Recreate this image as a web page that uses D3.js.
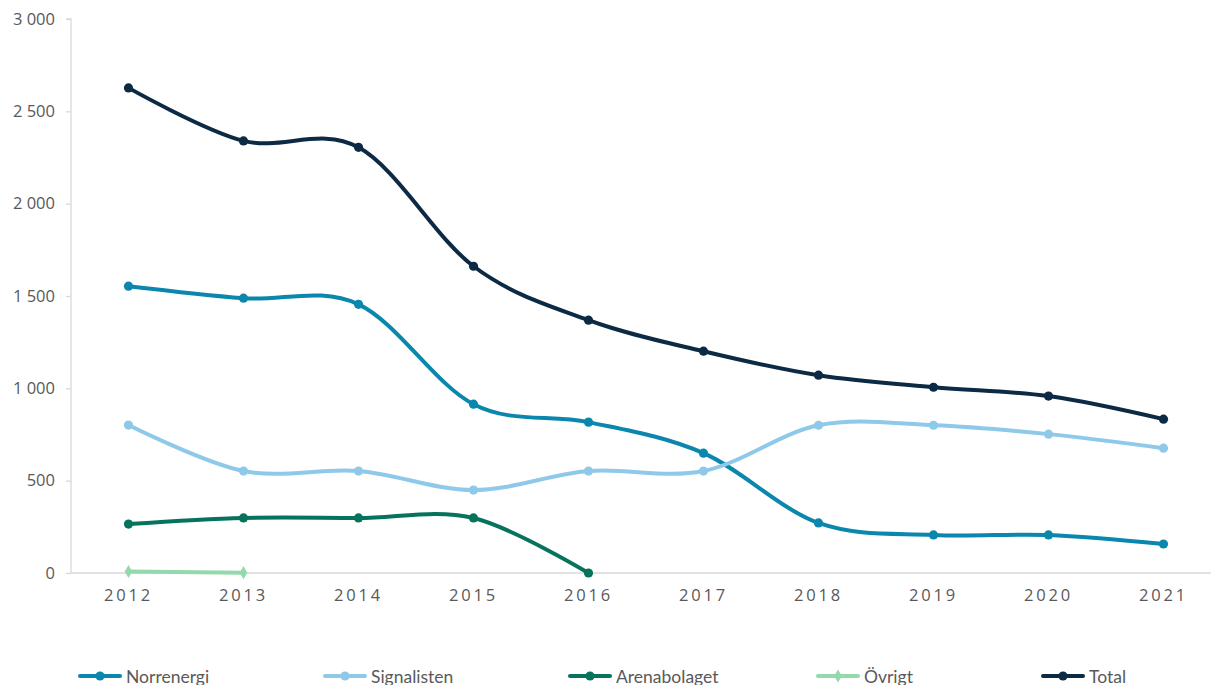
<!DOCTYPE html>
<html>
<head>
<meta charset="utf-8">
<script src="https://cdn.jsdelivr.net/npm/d3@7"></script>
<style>
  html, body { margin: 0; padding: 0; background: #fff; overflow: hidden; }
  svg { display: block; }
</style>
</head>
<body>
<svg id="chart" width="1211" height="685"></svg>
<script>
// Years on the x axis
const years = ["2012", "2013", "2014", "2015", "2016", "2017", "2018", "2019", "2020", "2021"];

// Series values (null = no value for that year)
const norrenergi   = [1553, 1488, 1455, 914, 817, 649, 271, 206, 206, 157];
const signalisten  = [801, 552, 552, 449, 552, 552, 800, 800, 752, 676];
const arenabolaget = [265, 298, 298, 298, 0, null, null, null, null, null];
const ovrigt       = [8, 2, null, null, null, null, null, null, null, null];
const total        = [2627, 2340, 2305, 1661, 1369, 1201, 1071, 1006, 958, 833];

const seriesNames  = ["Norrenergi", "Signalisten", "Arenabolaget", "Övrigt", "Total"];
const yTicks       = [0, 500, 1000, 1500, 2000, 2500, 3000];

const series = [
  { name: seriesNames[0], values: norrenergi,   color: "#0b87ae", marker: "circle" },
  { name: seriesNames[1], values: signalisten,  color: "#8ec9ea", marker: "circle" },
  { name: seriesNames[2], values: arenabolaget, color: "#08735d", marker: "circle" },
  { name: seriesNames[3], values: ovrigt,       color: "#93d9ab", marker: "diamond" },
  { name: seriesNames[4], values: total,        color: "#0d2a44", marker: "circle" }
];

const svg = d3.select("#chart");
const margin = { left: 71, top: 19, bottom: 573 };
const plotRight = 1221;

const x = d3.scaleBand().domain(years).range([margin.left, plotRight]);
const xc = d => x(d) + x.bandwidth() / 2;
const y = d3.scaleLinear().domain([0, 3000]).range([margin.bottom, margin.top]);

// Y axis: thin grey line with short outward ticks
const yAxis = svg.append("g")
  .attr("transform", `translate(${margin.left},0)`)
  .call(d3.axisLeft(y).tickValues(yTicks).tickSize(5).tickPadding(11)
    .tickFormat(d => d3.format(",")(d).replace(/,/g, " ")));
yAxis.select(".domain").attr("stroke", "#d9d9d9").attr("stroke-width", 1.3)
  .attr("d", `M-5,${y(3000)}H0V${y(0)}`);
yAxis.selectAll(".tick line").attr("stroke", "#d9d9d9").attr("stroke-width", 1.3);
yAxis.selectAll(".tick text")
  .attr("fill", "#595959").attr("font-family", "'Open Sans', sans-serif").attr("font-size", 16.5);

// X axis: baseline and spaced year labels
const xAxis = svg.append("g")
  .attr("transform", `translate(0,${y(0)})`)
  .call(d3.axisBottom(x).tickSize(0).tickPadding(16));
xAxis.select(".domain").attr("stroke", "#d9d9d9").attr("stroke-width", 1.3)
  .attr("d", `M${margin.left},0H${plotRight}`);
xAxis.selectAll(".tick text")
  .attr("fill", "#595959").attr("font-family", "'Open Sans', sans-serif").attr("font-size", 16.5)
  .attr("letter-spacing", "2.8px");

// Smoothed lines
const line = d3.line()
  .defined(d => d.v != null)
  .x(d => xc(d.year))
  .y(d => y(d.v))
  .curve(d3.curveCardinal.tension(0));

const diamond = d3.symbol().type(d3.symbolDiamond).size(50);

series.forEach(s => {
  const pts = years.map((yr, i) => ({ year: yr, v: s.values[i] }));
  const g = svg.append("g");
  g.append("path")
    .datum(pts)
    .attr("d", line)
    .attr("fill", "none")
    .attr("stroke", s.color)
    .attr("stroke-width", 4)
    .attr("stroke-linecap", "round")
    .attr("stroke-linejoin", "round");
  const valid = pts.filter(d => d.v != null);
  if (s.marker === "circle") {
    g.selectAll("circle").data(valid).join("circle")
      .attr("cx", d => xc(d.year)).attr("cy", d => y(d.v))
      .attr("r", 4.6).attr("fill", s.color);
  } else {
    g.selectAll("path.m").data(valid).join("path").attr("class", "m")
      .attr("transform", d => `translate(${xc(d.year)},${y(d.v)})`)
      .attr("d", diamond).attr("fill", s.color);
  }
});

// Legend along the bottom edge
const legendX = [80, 325, 570, 818, 1043];
const legendY = 676;
series.forEach((s, i) => {
  const g = svg.append("g").attr("transform", `translate(${legendX[i]},${legendY})`);
  g.append("line").attr("x1", 0).attr("x2", 40).attr("y1", 0).attr("y2", 0)
    .attr("stroke", s.color).attr("stroke-width", 4).attr("stroke-linecap", "round");
  if (s.marker === "circle") {
    g.append("circle").attr("cx", 20).attr("cy", 0).attr("r", 4.6).attr("fill", s.color);
  } else {
    g.append("path").attr("transform", "translate(20,0)").attr("d", diamond).attr("fill", s.color);
  }
  g.append("text").attr("x", 46).attr("y", 7)
    .attr("fill", "#595959").attr("font-family", "Lato, sans-serif").attr("font-size", 17.5)
    .text(s.name);
});
</script>
</body>
</html>
